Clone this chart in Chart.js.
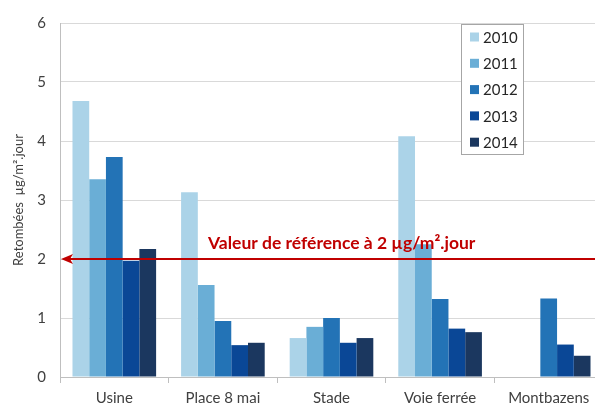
<!DOCTYPE html>
<html>
<head>
<meta charset="utf-8">
<script src="https://cdn.jsdelivr.net/npm/chart.js@4"></script>
<style>
  html, body { margin: 0; padding: 0; background: #fff; overflow: hidden; }
  #wrap { position: relative; width: 603px; height: 405px; }
</style>
</head>
<body>
<div id="wrap"><canvas id="chart"></canvas></div>
<script>
// Données
const sites = ['Usine', 'Place 8 mai', 'Stade', 'Voie ferrée', 'Montbazens']
const years = ['2010', '2011', '2012', '2013', '2014']
const v2010 = [4.68, 3.13, 0.66, 4.08, null]
const v2011 = [3.35, 1.56, 0.85, 2.25, null]
const v2012 = [3.73, 0.95, 1.0, 1.32, 1.33]
const v2013 = [1.97, 0.54, 0.58, 0.82, 0.55]
const v2014 = [2.17, 0.58, 0.66, 0.76, 0.36]
const colors = ['#abd3e8', '#6aaed6', '#2373b6', '#0a4796', '#1b375f']
const refValue = 2
const refLabel = 'Valeur de référence à 2 µg/m².jour'
const yTitle = 'Retombées  µg/m².jour'

const series = [v2010, v2011, v2012, v2013, v2014]
const fontFamily = 'Lato, "Open Sans", sans-serif'

// Ligne de référence avec flèche
const refLine = {
  id: 'refLine',
  afterDatasetsDraw(chart) {
    const { ctx, chartArea, scales } = chart
    const y = scales.y.getPixelForValue(refValue)
    const x0 = chartArea.left + 1
    ctx.save()
    ctx.strokeStyle = '#c00000'
    ctx.fillStyle = '#c00000'
    ctx.lineWidth = 2
    ctx.beginPath()
    ctx.moveTo(x0 + 4, y)
    ctx.lineTo(chartArea.right, y)
    ctx.stroke()
    ctx.beginPath()
    ctx.moveTo(x0, y)
    ctx.lineTo(x0 + 12, y - 5)
    ctx.lineTo(x0 + 9, y)
    ctx.lineTo(x0 + 12, y + 5)
    ctx.closePath()
    ctx.fill()
    ctx.font = 'bold 17.5px ' + fontFamily
    ctx.textBaseline = 'alphabetic'
    ctx.fillText(refLabel, 208, y - 10)
    ctx.restore()
  },
}

// Légende dans la zone du graphique
const boxLegend = {
  id: 'boxLegend',
  afterDraw(chart) {
    const { ctx } = chart
    const x = 461, y = 24, w = 62, h = 130
    ctx.save()
    ctx.fillStyle = '#fff'
    ctx.fillRect(x, y, w, h)
    ctx.strokeStyle = '#a6a6a6'
    ctx.lineWidth = 1
    ctx.strokeRect(x + 0.5, y + 0.5, w, h)
    ctx.font = '15px ' + fontFamily
    ctx.textBaseline = 'middle'
    chart.data.datasets.forEach((ds, i) => {
      const cy = y + 13 + i * 26.3
      ctx.fillStyle = ds.backgroundColor
      ctx.fillRect(x + 9, cy - 4.5, 9, 9)
      ctx.fillStyle = '#262626'
      ctx.fillText(ds.label, x + 22, cy + 1)
    })
    ctx.restore()
  },
}

new Chart(document.getElementById('chart'), {
  type: 'bar',
  data: {
    labels: sites,
    datasets: years.map((year, i) => ({
      label: year,
      data: series[i],
      backgroundColor: colors[i],
      borderWidth: 0,
      categoryPercentage: 0.77,
      barPercentage: 1,
    })),
  },
  options: {
    responsive: true,
    maintainAspectRatio: false,
    animation: false,
    layout: { padding: { top: 20, right: 0, bottom: 0, left: 0 } },
    plugins: {
      legend: { display: false },
      tooltip: { enabled: false },
    },
    scales: {
      x: {
        grid: {
          offset: true,
          drawOnChartArea: false,
          tickLength: 6,
          color: '#bfbfbf',
        },
        border: { color: '#bfbfbf' },
        ticks: {
          color: '#404040',
          font: { family: fontFamily, size: 15 },
          padding: 6,
        },
        afterFit(scale) { scale.height = 28 },
      },
      y: {
        min: 0,
        max: 6,
        ticks: {
          stepSize: 1,
          color: '#404040',
          font: { family: fontFamily, size: 15 },
          padding: 14,
        },
        grid: { color: '#d9d9d9', drawTicks: false },
        border: { color: '#bfbfbf' },
        title: {
          display: true,
          text: yTitle,
          color: '#404040',
          font: { family: fontFamily, size: 13 },
          padding: { top: 11, bottom: 0 },
        },
        afterFit(scale) { scale.width = 60 },
      },
    },
  },
  plugins: [refLine, boxLegend],
})
</script>
</body>
</html>
